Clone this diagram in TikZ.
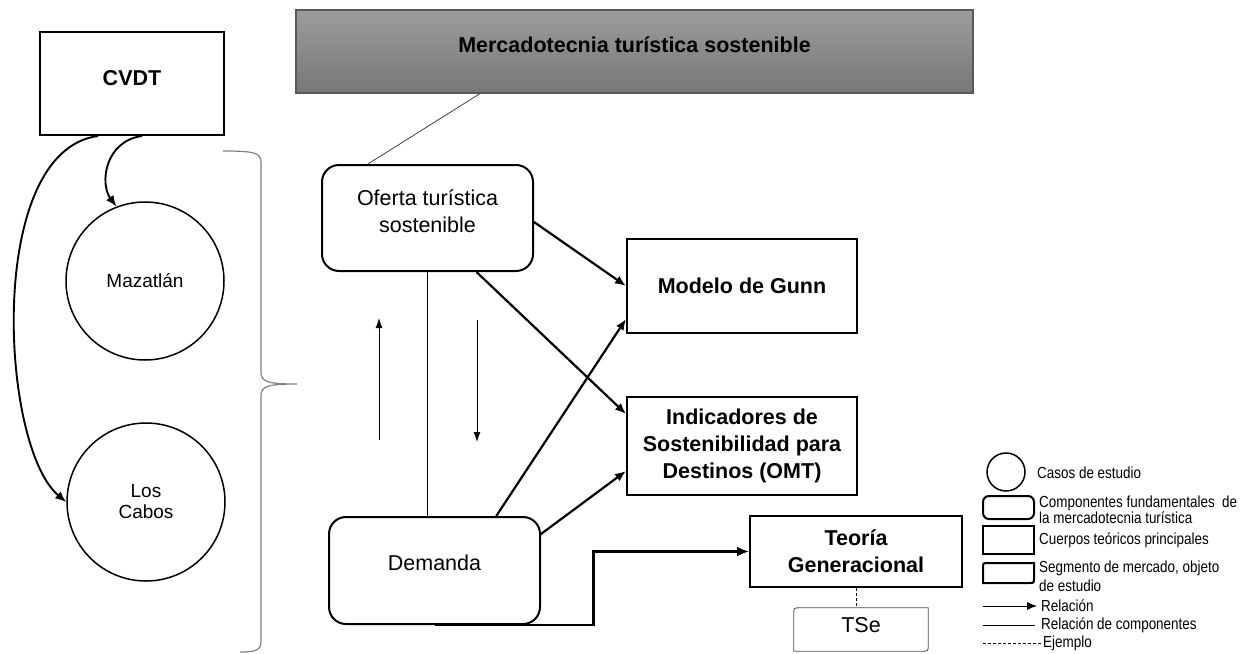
\documentclass[tikz,border=0pt]{standalone}
\usepackage{fontspec}
\setmainfont{Liberation Sans}
\newfontfamily\legendfont{Liberation Sans}[FakeStretch=0.84]
\usetikzlibrary{arrows.meta,calc}
\definecolor{mtop}{HTML}{9C9C9C}
\definecolor{mbot}{HTML}{777777}
\definecolor{llave}{HTML}{808080}

\begin{document}
\begin{tikzpicture}[x=1pt,y=-1pt]
\tikzset{cuerpo/.style={ %
		draw,
		line width=2pt,
		inner sep=0pt,
		align=center,
		font=\fontsize{21.5}{27}\selectfont\bfseries
	},
	componente/.style={ %
		draw,
		line width=2pt,
		rounded corners=17pt,
		inner sep=0pt,
		align=center,
		font=\fontsize{21.5}{27}\selectfont
	},
	caso/.style={ %
		circle,
		draw,
		line width=1.5pt,
		minimum size=158pt,
		inner sep=0pt,
		align=center,
		font=\fontsize{19}{21}\selectfont
	},
	rel/.style={line width=2.2pt, -{Latex[length=11pt,width=9pt]}},
	relfina/.style={line width=1pt, -{Latex[length=10pt,width=7pt]}},
	relc/.style={line width=1pt},
	ejemplo/.style={line width=0.8pt, dashed, dash pattern=on 3pt off 2pt},
	leyenda/.style={anchor=west, inner sep=0pt, align=left,
		font=\legendfont\fontsize{16}{16}\selectfont}
}
\useasboundingbox (0,0) rectangle (1246,653);

% cuerpos teoricos
\node[cuerpo, minimum width=184pt, minimum height=103pt, text depth=11pt] (cvdt) at (132,83.5) {CVDT};
\node[cuerpo, draw=black!65, line width=1.5pt, top color=mtop, bottom color=mbot,
	minimum width=677pt, minimum height=83pt, text depth=14pt] (merc) at (634.5,51.5) {Mercadotecnia turística sostenible};
\node[cuerpo, minimum width=230pt, minimum height=94pt] (gunn) at (742,286) {Modelo de Gunn};
\node[cuerpo, minimum width=230pt, minimum height=98pt] (indic) at (742,446) {Indicadores de\\Sostenibilidad para\\Destinos (OMT)};
\node[cuerpo, minimum width=212pt, minimum height=71pt] (teoria) at (856,551.5) {Teoría\\Generacional};

% componentes
\node[componente, minimum width=211pt, minimum height=106pt, text depth=13pt] (oferta) at (427.5,218) {Oferta turística\\sostenible};
\node[componente, minimum width=211pt, minimum height=107pt, text depth=15pt] (demanda) at (434.5,570.5) {Demanda};

% casos de estudio
\node[caso] (maz) at (145,281) {Mazatlán};
\node[caso] (cabos) at (146,502) {Los\\Cabos};

% segmento
\node[inner sep=0pt, minimum width=134pt, minimum height=43pt, text depth=9pt,
	font=\fontsize{21.5}{27}\selectfont] (tse) at (861,629.5) {TSe};
\draw[line width=0.8pt, black!70] ($(tse.north west)+(0,6)$) .. controls (tse.north west) .. ($(tse.north west)+(6,0)$)
	-- (tse.north east) -- ($(tse.south east)+(0,-6)$) .. controls (tse.south east) .. ($(tse.south east)+(-6,0)$)
	-- (tse.south west) -- cycle;

% llave
\draw[llave, line width=1.2pt] (223,151) .. controls (256,151) and (261,153) .. (261,163) -- (261,372)
	.. controls (261,382) and (268,384) .. (297,384) .. controls (268,384) and (261,386) .. (261,396)
	-- (261,640) .. controls (261,650) and (257,652) .. (240,652);

% relaciones
\draw[rel, line width=1.9pt] ([xshift=10pt]cvdt.south) .. controls +(-37,5) and +(-17,-23) .. (maz.111);
\draw[rel, line width=1.9pt] ([xshift=-34pt]cvdt.south) .. controls +(-113,15) and +(-66,-55) .. (cabos.west);

\draw[relc, black!75, line width=0.8pt] ($(merc.south west)!0.272!(merc.south east)$) -- ($(oferta.north west)!0.22!(oferta.north east)$);
\draw[relc] (oferta.south) -- (oferta.south |- demanda.north);

\draw[rel] ([yshift=-4pt]oferta.east) -- (gunn.west);
\draw[rel] ($(oferta.south west)!0.73!(oferta.south east)$) -- ([yshift=-18pt]indic.north west);
\draw[rel] ($(demanda.north west)!0.79!(demanda.north east)$) -- ([yshift=15pt]gunn.south west);
\draw[rel] ([yshift=-18pt]demanda.north east) -- ([yshift=25pt]indic.south west);
\draw[rel, line width=2.8pt, -{Latex[length=12pt,width=10pt]}] (demanda.south) -- ++(159,0) |- (teoria.west);

\coordinate (sube1) at (379,440);
\coordinate (sube2) at (379,318);
\coordinate (baja1) at (477,320);
\coordinate (baja2) at (477,442);
\draw[relfina] (sube1) -- (sube2);
\draw[relfina] (baja1) -- (baja2);

\draw[ejemplo] (teoria.south) -- (teoria.south |- tse.north);

% leyenda
\node[circle, draw, line width=1.5pt, minimum size=38pt, inner sep=0pt] (lcaso) at (1006,472) {};
\draw[line width=2pt, rounded corners=6pt] (983,496) rectangle (1034,519);
\draw[line width=2pt] (983,526) rectangle (1034,554);
\draw[line width=2pt] (983,568) .. controls (983,563) .. (988,563) -- (1034,563) -- (1034,578)
	.. controls (1034,583) .. (1029,583) -- (983,583) -- cycle;
\coordinate (lrel1) at (983,606);
\coordinate (lrel2) at (1037,606);
\coordinate (lrelc1) at (983,625);
\coordinate (lrelc2) at (1035,625);
\coordinate (lej1) at (983,643);
\coordinate (lej2) at (1041,643);
\draw[line width=1pt, -{Latex[length=10pt,width=8pt]}] (lrel1) -- (lrel2);
\draw[line width=1pt] (lrelc1) -- (lrelc2);
\draw[ejemplo] (lej1) -- (lej2);

\node[leyenda] (t1) at (1037,473) {Casos de estudio};
\node[leyenda] (t2) at (1039,510) {Componentes fundamentales\ \ de\\la mercadotecnia turística};
\node[leyenda] (t3) at (1039,540) {Cuerpos teóricos principales};
\node[leyenda, font=\legendfont\fontsize{16}{19}\selectfont] (t4) at (1039,576.5) {Segmento de mercado, objeto\\de estudio};
\node[leyenda] (t5) at (1041,606) {Relación};
\node[leyenda] (t6) at (1041,625) {Relación de componentes};
\node[leyenda] (t7) at (1043,643) {Ejemplo};

\end{tikzpicture}
\end{document}
